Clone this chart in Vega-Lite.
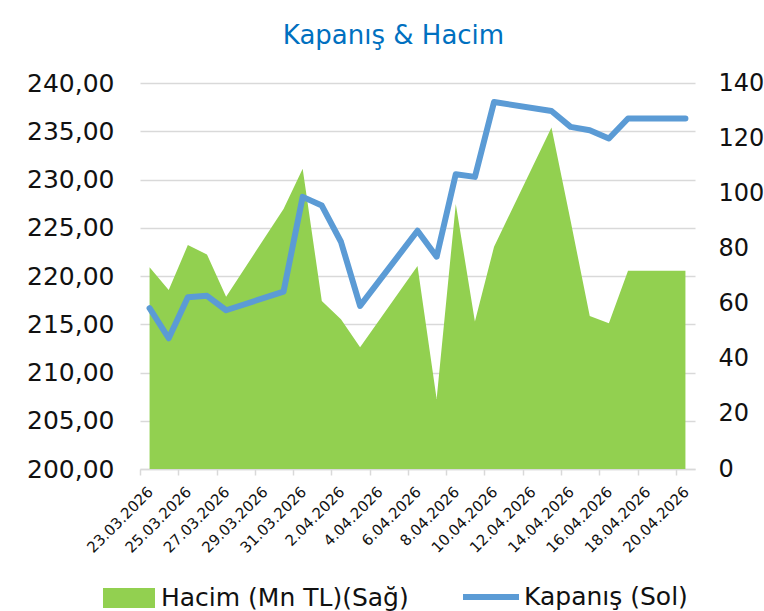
{
  "$schema": "https://vega.github.io/schema/vega-lite/v6.json",
  "autosize": {"type": "none"},
  "padding": {"left": 140, "top": 83, "right": 69, "bottom": 142},
  "width": 555,
  "height": 386,
  "background": "white",
  "config": {
    "view": {"stroke": null},
    "font": "DejaVu Sans",
    "axis": {"labelFont": "DejaVu Sans", "labelColor": "#111111", "titleFont": "DejaVu Sans"},
    "legend": {"labelFont": "DejaVu Sans", "labelColor": "#111111"}
  },
  "title": {
    "text": "Kapanış & Hacim",
    "fontSize": 26,
    "fontWeight": "normal",
    "color": "#0070C0",
    "anchor": "middle",
    "dx": -24,
    "offset": 22
  },
  "data": {
    "values": [
      {"date": "2026-03-23", "kapanis": 216.66, "hacim": 73.2},
      {"date": "2026-03-24", "kapanis": 213.55, "hacim": 64.9},
      {"date": "2026-03-25", "kapanis": 217.8, "hacim": 81.2},
      {"date": "2026-03-26", "kapanis": 217.95, "hacim": 77.8},
      {"date": "2026-03-27", "kapanis": 216.45, "hacim": 62.5},
      {"date": "2026-03-30", "kapanis": 218.38, "hacim": 94.3},
      {"date": "2026-03-31", "kapanis": 228.2, "hacim": 108.9},
      {"date": "2026-04-01", "kapanis": 227.3, "hacim": 60.9},
      {"date": "2026-04-02", "kapanis": 223.55, "hacim": 54.3},
      {"date": "2026-04-03", "kapanis": 216.9, "hacim": 44.2},
      {"date": "2026-04-06", "kapanis": 224.69, "hacim": 73.6},
      {"date": "2026-04-07", "kapanis": 222.0, "hacim": 25.4},
      {"date": "2026-04-08", "kapanis": 230.55, "hacim": 96.1},
      {"date": "2026-04-09", "kapanis": 230.27, "hacim": 53.5},
      {"date": "2026-04-10", "kapanis": 238.03, "hacim": 80.6},
      {"date": "2026-04-13", "kapanis": 237.1, "hacim": 123.9},
      {"date": "2026-04-14", "kapanis": 235.45, "hacim": 90.0},
      {"date": "2026-04-15", "kapanis": 235.1, "hacim": 55.5},
      {"date": "2026-04-16", "kapanis": 234.25, "hacim": 52.9},
      {"date": "2026-04-17", "kapanis": 236.32, "hacim": 71.9},
      {"date": "2026-04-20", "kapanis": 236.32, "hacim": 71.9}
    ]
  },
  "encoding": {
    "x": {
      "field": "date",
      "type": "temporal",
      "scale": {
        "type": "utc",
        "domain": [
          {"year": 2026, "month": 3, "date": 22, "hours": 12, "utc": true},
          {"year": 2026, "month": 4, "date": 20, "hours": 12, "utc": true}
        ]
      },
      "axis": {
        "title": null,
        "grid": false,
        "values": [
          {"year": 2026, "month": 3, "date": 22, "hours": 12, "utc": true},
          {"year": 2026, "month": 3, "date": 24, "hours": 12, "utc": true},
          {"year": 2026, "month": 3, "date": 26, "hours": 12, "utc": true},
          {"year": 2026, "month": 3, "date": 28, "hours": 12, "utc": true},
          {"year": 2026, "month": 3, "date": 30, "hours": 12, "utc": true},
          {"year": 2026, "month": 4, "date": 1, "hours": 12, "utc": true},
          {"year": 2026, "month": 4, "date": 3, "hours": 12, "utc": true},
          {"year": 2026, "month": 4, "date": 5, "hours": 12, "utc": true},
          {"year": 2026, "month": 4, "date": 7, "hours": 12, "utc": true},
          {"year": 2026, "month": 4, "date": 9, "hours": 12, "utc": true},
          {"year": 2026, "month": 4, "date": 11, "hours": 12, "utc": true},
          {"year": 2026, "month": 4, "date": 13, "hours": 12, "utc": true},
          {"year": 2026, "month": 4, "date": 15, "hours": 12, "utc": true},
          {"year": 2026, "month": 4, "date": 17, "hours": 12, "utc": true},
          {"year": 2026, "month": 4, "date": 19, "hours": 12, "utc": true}
        ],
        "labelExpr": "utcFormat(datum.value + 43200000, '%-d.%m.%Y')",
        "labelAngle": -45,
        "labelAlign": "right",
        "labelBaseline": "middle",
        "labelOffset": 10,
        "labelPadding": 14,
        "labelFontSize": 15,
        "labelOverlap": false,
        "labelFlush": false,
        "domainColor": "#D9D9D9",
        "domainWidth": 1.5,
        "tickColor": "#D9D9D9",
        "tickWidth": 1.5,
        "tickSize": 6
      }
    }
  },
  "layer": [
    {
      "mark": {"type": "area", "opacity": 1, "interpolate": "linear"},
      "encoding": {
        "y": {
          "field": "hacim",
          "type": "quantitative",
          "scale": {"domain": [0, 140], "nice": false},
          "axis": {
            "orient": "right",
            "title": null,
            "values": [0, 20, 40, 60, 80, 100, 120, 140],
            "grid": false,
            "domain": false,
            "ticks": false,
            "labelPadding": 23,
            "labelFontSize": 24
          }
        },
        "fill": {
          "datum": "Hacim (Mn TL)(Sağ)",
          "type": "nominal",
          "scale": {"range": ["#92D050"]},
          "legend": {
            "title": null,
            "orient": "none",
            "legendX": -37,
            "legendY": 489,
            "symbolType": "M-1,-0.385H1V0.385H-1Z",
            "symbolSize": 2704,
            "symbolStrokeWidth": 0,
            "symbolOpacity": 1,
            "labelFontSize": 25,
            "labelOffset": 6,
            "labelLimit": 400
          }
        }
      }
    },
    {
      "mark": {"type": "line", "strokeWidth": 6, "strokeCap": "round", "strokeJoin": "round"},
      "encoding": {
        "y": {
          "field": "kapanis",
          "type": "quantitative",
          "scale": {"domain": [200, 240], "nice": false, "zero": false},
          "axis": {
            "orient": "left",
            "title": null,
            "values": [200, 205, 210, 215, 220, 225, 230, 235, 240],
            "labelExpr": "replace(format(datum.value, '.2f'), '.', ',')",
            "grid": true,
            "gridColor": "#D9D9D9",
            "gridWidth": 1.5,
            "domain": false,
            "ticks": false,
            "labelPadding": 26,
            "labelFontSize": 25
          }
        },
        "stroke": {
          "datum": "Kapanış (Sol)",
          "type": "nominal",
          "scale": {"range": ["#5B9BD5"]},
          "legend": {
            "title": null,
            "orient": "none",
            "legendX": 320,
            "legendY": 483,
            "symbolType": "stroke",
            "symbolSize": 3136,
            "symbolStrokeWidth": 6,
            "labelFontSize": 25,
            "labelOffset": 2,
            "labelLimit": 400
          }
        }
      }
    }
  ],
  "resolve": {"scale": {"y": "independent"}}
}
